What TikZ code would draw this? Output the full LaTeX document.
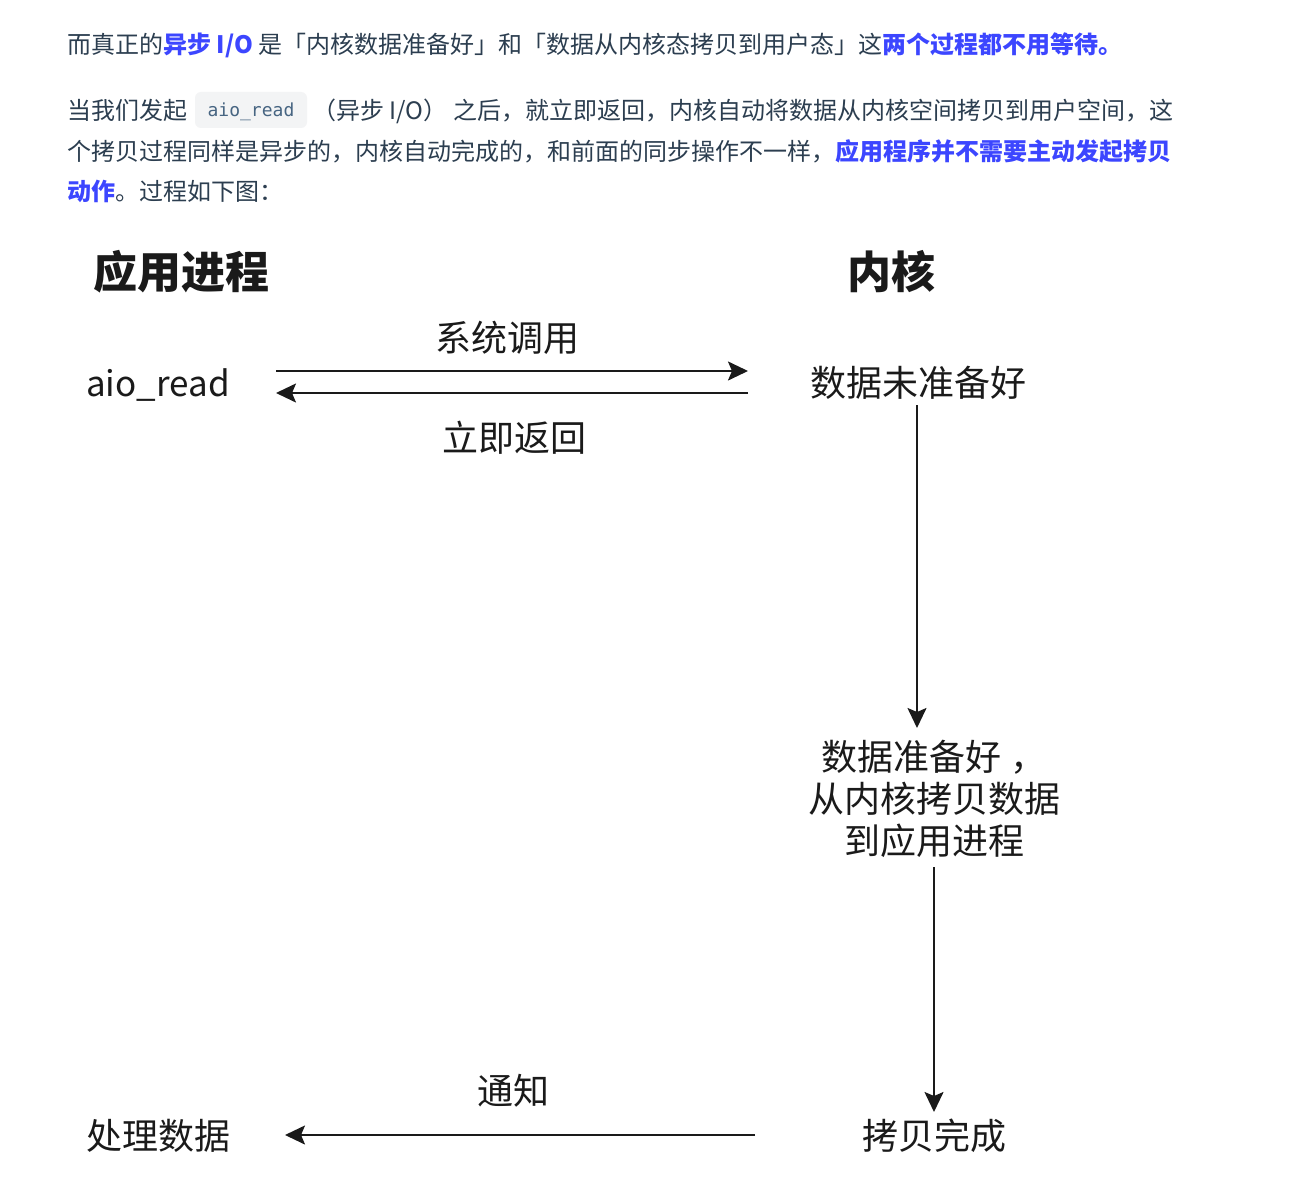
\documentclass[tikz,border=0pt]{standalone}
\usepackage{fontspec}
\setmainfont{Noto Sans CJK SC}
\newfontfamily\codefont{DejaVu Sans Mono}
\usepackage{xcolor}
\definecolor{xtext}{HTML}{2C3E50}
\definecolor{xblue}{HTML}{3C46FF}
\definecolor{xcodebg}{HTML}{F3F4F5}
\definecolor{xcode}{HTML}{476582}
\definecolor{xink}{HTML}{1A1A1A}
\usetikzlibrary{arrows.meta,positioning}

\newcommand{\hlblue}[1]{{\color{xblue}\bfseries #1}}

\begin{document}
\begin{tikzpicture}[x=0.5pt,y=-0.5pt,
  para/.style={anchor=west,inner sep=0pt,text height=10.6pt,text depth=1.4pt,
    font=\fontsize{12}{14}\selectfont,text=xtext},
  head/.style={inner sep=0pt,text height=19.4pt,text depth=2.6pt,
    font=\fontsize{22}{26}\selectfont\bfseries,text=xink},
  lbl/.style={inner sep=0pt,text height=15.8pt,text depth=2.2pt,
    font=\fontsize{18}{21}\selectfont,text=xink},
  arr/.style={-{Stealth[length=10pt,width=9.5pt,inset=2pt]},line width=1pt,draw=xink}]
\fill[white] (0,0) rectangle (1296,1193);
\useasboundingbox (0,0) rectangle (1296,1193);

\node[para] (p1) at (67,44) {而真正的\hlblue{异步 I/O} 是「内核数据准备好」和「数据从内核态拷贝到用户态」这\hlblue{两个过程都不用等待。}};
\node[para] (p2a) at (67,110) {当我们发起};
\node[fill=xcodebg,rounded corners=3pt,minimum width=56pt,minimum height=18pt,inner sep=0pt,
  text height=6.4pt,text depth=0pt,
  font=\codefont\fontsize{9}{11}\selectfont,text=xcode] (code) at (251,110) {aio\_read};
\node[para] (p2b) at (312,110) {（异步 I/O） 之后，就立即返回，内核自动将数据从内核空间拷贝到用户空间，这};
\node[para] (p3) at (67,151) {个拷贝过程同样是异步的，内核自动完成的，和前面的同步操作不一样，\hlblue{应用程序并不需要主动发起拷贝}};
\node[para] (p4) at (67,191) {\hlblue{动作}。过程如下图：};

\node[head] (app) at (181,272) {应用进程};
\node[head] (kern) at (891,272) {内核};

\node[lbl,font=\fontsize{17.5}{21}\selectfont] (aio) at (158,383) {aio\_read};
\node[lbl] (notready) at (918,383) {数据未准备好};
\node[lbl] (sys) at (507,338) {系统调用};
\node[lbl] (back) at (514,438) {立即返回};
\node[inner sep=0pt,align=center,font=\fontsize{18}{21}\selectfont,text=xink] (ready) at (934,799)
  {数据准备好 ，\\从内核拷贝数据\\到应用进程};
\node[lbl] (done) at (934,1136) {拷贝完成};
\node[lbl] (handle) at (158,1136) {处理数据};
\node[lbl] (notify) at (513,1091) {通知};

\coordinate (callS) at (276,371);
\coordinate (callE) at (748,371);
\coordinate (retS) at (748,393);
\coordinate (retE) at (276,393);
\coordinate (waitS) at (917,405);
\coordinate (waitE) at (917,728);
\coordinate (copyS) at (934,867);
\coordinate (copyE) at (934,1112);
\coordinate (tellS) at (755,1135);
\coordinate (tellE) at (285,1135);

\draw[arr] (callS) -- (callE);
\draw[arr] (retS) -- (retE);
\draw[arr] (waitS) -- (waitE);
\draw[arr] (copyS) -- (copyE);
\draw[arr] (tellS) -- (tellE);
\end{tikzpicture}
\end{document}
